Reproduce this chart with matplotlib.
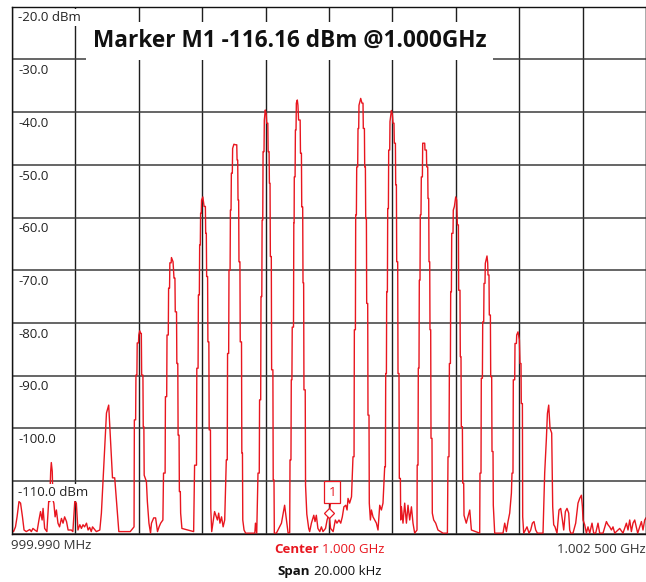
import matplotlib
matplotlib.use("Agg")
import matplotlib.pyplot as plt

plt.rcParams['font.family'] = ['Open Sans', 'DejaVu Sans']

# trace readings: (offset from centre in kHz, level in dBm)
noise_left = [
    (-10.00, -119.3), (-9.95, -119.6), (-9.89, -118.7), (-9.84, -116.8), (-9.78, -113.9),
    (-9.73, -114.2), (-9.67, -116.8), (-9.62, -119.3), (-9.55, -119.6), (-9.44, -119.2),
    (-9.39, -119.6), (-9.34, -119.0), (-9.28, -119.3), (-9.21, -119.6), (-9.15, -117.4),
    (-9.10, -115.8), (-9.05, -117.4), (-9.02, -115.2), (-8.97, -119.0), (-8.90, -119.6),
    (-8.84, -113.6), (-8.81, -113.9), (-8.78, -108.2), (-8.76, -106.5), (-8.73, -108.2),
    (-8.71, -113.6), (-8.68, -114.2), (-8.64, -116.8), (-8.60, -115.5), (-8.55, -118.0),
    (-8.50, -118.7), (-8.44, -117.1), (-8.39, -118.0), (-8.34, -116.8), (-8.28, -117.7),
    (-8.23, -119.3), (-8.13, -119.3), (-8.08, -119.6), (-8.02, -113.9), (-7.97, -114.2),
    (-7.92, -119.3), (-7.86, -118.3), (-7.81, -119.0), (-7.76, -118.3), (-7.71, -118.7),
    (-7.65, -118.0), (-7.60, -119.3), (-7.55, -118.8), (-7.50, -119.6), (-7.46, -118.7),
    (-7.34, -119.6), (-7.23, -119.3), (-7.18, -116.1),
]

lsb_7_6 = [
    (-7.02, -97.1), (-6.95, -95.6), (-6.83, -109.4), (-6.76, -109.4), (-6.63, -119.6),
    (-6.27, -119.6), (-6.15, -118.7),
    (-6.14, -98.4), (-6.10, -98.4), (-6.09, -89.9), (-6.06, -89.9), (-6.05, -83.8),
    (-6.01, -83.8), (-6.00, -82.3), (-5.97, -81.5), (-5.94, -82.0), (-5.92, -82.0),
    (-5.91, -89.9), (-5.87, -89.9), (-5.86, -99.7), (-5.84, -99.7), (-5.83, -108.9),
    (-5.76, -110.1), (-5.73, -113.9), (-5.68, -118.0), (-5.63, -119.9), (-5.60, -118.0),
    (-5.53, -117.0), (-5.47, -117.0), (-5.41, -119.6), (-5.36, -118.7), (-5.31, -118.0),
    (-5.24, -117.4),
]

lsb_5_4 = [
    (-5.22, -108.5), (-5.17, -108.5), (-5.16, -94.0), (-5.12, -94.0), (-5.11, -82.3),
    (-5.07, -82.3), (-5.06, -73.4), (-5.03, -73.4), (-5.02, -68.6), (-4.98, -68.6),
    (-4.97, -67.6), (-4.92, -68.4), (-4.89, -71.5), (-4.86, -71.5), (-4.85, -77.9),
    (-4.81, -77.9), (-4.80, -87.7), (-4.77, -87.7), (-4.76, -101.3), (-4.73, -101.3),
    (-4.72, -112.0), (-4.69, -112.0), (-4.68, -116.1), (-4.64, -119.0), (-4.27, -119.6),
    (-4.24, -107.0), (-4.18, -107.0), (-4.17, -88.6), (-4.13, -88.6), (-4.12, -74.7),
    (-4.09, -74.7), (-4.08, -65.2), (-4.06, -65.2), (-4.05, -59.2), (-4.03, -59.2),
    (-4.02, -56.7), (-3.98, -56.1), (-3.94, -57.9), (-3.90, -57.9), (-3.89, -63.0),
    (-3.87, -63.0), (-3.86, -71.2), (-3.83, -71.2), (-3.82, -83.6), (-3.79, -83.6),
    (-3.78, -100.3), (-3.74, -100.3), (-3.73, -115.2), (-3.70, -119.6), (-3.61, -115.8),
    (-3.52, -117.4), (-3.48, -116.1), (-3.44, -118.0), (-3.39, -116.8), (-3.34, -118.7),
    (-3.29, -117.4),
]

lsb_3_2_1 = [
    (-3.24, -106.0), (-3.21, -106.0), (-3.20, -85.8), (-3.165, -85.8), (-3.155, -70.0),
    (-3.12, -70.0), (-3.11, -58.6), (-3.09, -58.6), (-3.08, -51.6), (-3.05, -51.6),
    (-3.04, -46.9), (-3.00, -46.1), (-2.95, -46.2), (-2.91, -46.2), (-2.90, -49.1),
    (-2.88, -49.1), (-2.87, -56.7), (-2.85, -56.7), (-2.84, -68.4), (-2.81, -68.4),
    (-2.80, -83.6), (-2.76, -83.6), (-2.75, -104.7), (-2.73, -104.7), (-2.72, -117.4),
    (-2.68, -119.3), (-2.63, -119.9), (-2.34, -119.9), (-2.32, -118.0), (-2.28, -119.9),
    (-2.24, -108.5), (-2.20, -108.5), (-2.19, -94.6), (-2.155, -94.6), (-2.145, -75.0),
    (-2.12, -75.0), (-2.11, -60.5), (-2.09, -60.5), (-2.08, -47.5), (-2.05, -47.5),
    (-2.04, -41.5), (-2.01, -39.6), (-1.98, -40.4), (-1.965, -42.1), (-1.93, -42.1),
    (-1.92, -47.5), (-1.89, -47.5), (-1.88, -53.5), (-1.86, -53.5), (-1.85, -67.4),
    (-1.82, -67.4), (-1.81, -88.9), (-1.77, -88.9), (-1.76, -109.8), (-1.735, -109.8),
    (-1.725, -119.9), (-1.66, -119.9), (-1.50, -118.0), (-1.40, -114.6), (-1.29, -119.9),
    (-1.24, -119.8),
    (-1.23, -106.0), (-1.20, -106.0), (-1.19, -90.8), (-1.17, -90.8), (-1.16, -80.8),
    (-1.12, -80.8), (-1.11, -61.0), (-1.10, -61.0), (-1.095, -52.3), (-1.07, -52.3),
    (-1.06, -43.4), (-1.04, -43.4), (-1.03, -38.3), (-1.00, -37.7), (-0.98, -38.7),
    (-0.96, -41.5), (-0.91, -41.5), (-0.90, -47.8), (-0.87, -47.8), (-0.86, -58.0),
    (-0.83, -58.0), (-0.82, -72.4), (-0.80, -72.4), (-0.79, -92.7), (-0.75, -92.7),
    (-0.74, -110.8), (-0.70, -116.3),
]

noise_centre = [
    (-0.64, -119.0), (-0.61, -119.6), (-0.555, -118.0), (-0.48, -116.5), (-0.44, -117.7),
    (-0.40, -116.5), (-0.35, -119.0), (-0.29, -119.6), (-0.24, -118.7), (-0.19, -119.6),
    (-0.11, -119.0), (-0.06, -117.4), (0.00, -116.16), (0.05, -119.0), (0.13, -119.6),
    (0.20, -117.4), (0.25, -118.0), (0.315, -117.4), (0.37, -118.0), (0.42, -116.8),
    (0.47, -114.9), (0.53, -114.6), (0.57, -115.5), (0.60, -113.3), (0.65, -114.2),
    (0.71, -113.0),
]

usb_1_2_3 = [
    (0.757, -105.4), (0.79, -105.4), (0.80, -81.3), (0.833, -81.3), (0.842, -59.5),
    (0.864, -59.5), (0.874, -50.4), (0.905, -50.4), (0.915, -43.1), (0.937, -43.1),
    (0.946, -38.7), (1.00, -37.4), (1.04, -38.3), (1.073, -38.3), (1.082, -43.1),
    (1.117, -43.1), (1.126, -50.4), (1.148, -50.4), (1.158, -60.2), (1.18, -60.2),
    (1.189, -76.3), (1.221, -76.3), (1.23, -97.5), (1.262, -97.5), (1.271, -114.2),
    (1.306, -117.4), (1.338, -115.5), (1.388, -116.8), (1.442, -117.4), (1.495, -118.0),
    (1.546, -119.3), (1.60, -114.6), (1.653, -115.5), (1.703, -114.2),
    (1.757, -107.3), (1.779, -107.3), (1.789, -89.6), (1.811, -89.6), (1.82, -74.1),
    (1.842, -74.1), (1.852, -58.3), (1.874, -58.3), (1.883, -47.2), (1.915, -47.2),
    (1.924, -41.8), (1.968, -39.7), (2.00, -40.5), (2.019, -42.1), (2.05, -42.1),
    (2.06, -45.9), (2.095, -45.9), (2.104, -53.8), (2.126, -53.8), (2.136, -68.4),
    (2.167, -68.4), (2.177, -89.6), (2.208, -89.6), (2.218, -109.5), (2.252, -109.5),
    (2.262, -117.4), (2.284, -114.9), (2.334, -118.0), (2.388, -114.2), (2.442, -118.0),
    (2.492, -114.6), (2.546, -117.4), (2.60, -114.9), (2.65, -118.0), (2.703, -119.9),
    (2.776, -119.3),
    (2.782, -107.0), (2.808, -107.0), (2.817, -88.6), (2.839, -88.6), (2.849, -71.9),
    (2.871, -71.9), (2.88, -59.5), (2.902, -59.5), (2.912, -52.3), (2.946, -52.3),
    (2.956, -45.9), (3.019, -45.9), (3.028, -47.2), (3.073, -47.2), (3.082, -50.4),
    (3.114, -50.4), (3.123, -56.4), (3.145, -56.4), (3.155, -68.4), (3.177, -68.4),
    (3.186, -81.3), (3.208, -81.3), (3.218, -101.9), (3.249, -101.9), (3.259, -116.1),
    (3.303, -117.4), (3.366, -118.0), (3.438, -119.3), (3.596, -119.9), (3.735, -119.9),
]

usb_4_5 = [
    (3.754, -105.4), (3.785, -105.4), (3.798, -87.7), (3.83, -87.7), (3.839, -74.1),
    (3.861, -74.1), (3.871, -63.0), (3.912, -63.0), (3.921, -58.6), (3.956, -57.9),
    (3.997, -56.1), (4.028, -56.7), (4.05, -61.4), (4.082, -61.4), (4.091, -73.8),
    (4.132, -73.8), (4.142, -86.4), (4.164, -86.4), (4.174, -99.7), (4.208, -99.7),
    (4.218, -110.4), (4.249, -110.4), (4.259, -116.5), (4.33, -118.0), (4.44, -115.5),
    (4.492, -119.3), (4.754, -119.9),
    (4.763, -108.5), (4.795, -108.5), (4.804, -90.5), (4.839, -90.5), (4.849, -79.8),
    (4.88, -79.8), (4.89, -72.5), (4.921, -72.5), (4.931, -68.7), (4.984, -67.3),
    (5.006, -68.6), (5.016, -70.9), (5.047, -70.9), (5.057, -78.5), (5.091, -78.5),
    (5.101, -90.2), (5.132, -90.2), (5.142, -104.4), (5.174, -104.4), (5.183, -114.6),
    (5.227, -119.9), (5.489, -119.9), (5.543, -118.0), (5.596, -119.6), (5.647, -117.7),
    (5.70, -116.1), (5.754, -112.3),
]

usb_6_7 = [
    (5.773, -108.5), (5.804, -108.5), (5.814, -90.8), (5.858, -90.8), (5.868, -83.9),
    (5.912, -83.9), (5.921, -82.3), (5.962, -81.7), (6.006, -83.2), (6.025, -87.7),
    (6.057, -87.7), (6.066, -95.3), (6.101, -95.3), (6.11, -116.8), (6.142, -119.9),
    (6.196, -119.3), (6.246, -118.7), (6.309, -119.9), (6.363, -119.3), (6.416, -118.0),
    (6.467, -117.7), (6.521, -119.3), (6.574, -119.9), (6.751, -119.9),
    (6.804, -108.5), (6.858, -101.9), (6.89, -97.2), (6.931, -95.6), (6.972, -100.0),
    (7.025, -100.9), (7.057, -114.9), (7.088, -118.3), (7.129, -118.7), (7.192, -119.9),
]

noise_right = [
    (7.256, -115.5), (7.309, -115.2), (7.363, -117.4), (7.404, -119.3), (7.457, -115.8),
    (7.508, -115.2), (7.562, -116.1), (7.593, -119.3), (7.625, -119.9), (7.697, -119.9),
    (7.782, -118.0), (7.855, -114.2), (7.909, -113.3), (7.962, -112.7), (7.994, -114.9),
    (8.013, -117.4), (8.066, -118.3), (8.12, -119.9), (8.17, -118.7), (8.224, -119.9),
    (8.297, -118.0), (8.35, -119.9), (8.413, -119.9), (8.486, -118.0), (8.539, -119.9),
    (8.644, -119.9), (8.751, -117.7), (8.801, -118.3), (8.855, -118.7), (8.909, -119.3),
    (8.959, -118.7), (9.013, -119.9), (9.17, -119.0), (9.274, -119.9), (9.382, -118.0),
    (9.432, -119.3), (9.486, -117.4), (9.539, -119.6), (9.59, -118.0), (9.644, -117.4),
    (9.738, -119.9), (9.855, -117.7), (9.905, -119.3), (9.959, -117.4), (10.0, -117.0),
]

marker_khz = 0.0
marker_dbm = -116.16
level_ticks = [-20, -30, -40, -50, -60, -70, -80, -90, -100, -110]
freq_ticks = [-10, -8, -6, -4, -2, 0, 2, 4, 6, 8, 10]

title = "Marker M1 -116.16 dBm @1.000GHz"
start_label = "999.990 MHz"
stop_label = "1.002 500 GHz"
center_value = "1.000 GHz"
span_value = "20.000 kHz"

RED = "#e8161f"
W, H = 646, 582

trace = (noise_left + lsb_7_6 + lsb_5_4 + lsb_3_2_1 + noise_centre
         + usb_1_2_3 + usb_4_5 + usb_6_7 + noise_right)
freqs = [p[0] for p in trace]
levels = [p[1] for p in trace]

fig = plt.figure(figsize=(W / 100, H / 100), dpi=100)
ax = fig.add_axes([12 / W, (H - 533.7) / H, (W - 12) / W, 527 / H])
ax.set_xlim(-10, 10)
ax.set_ylim(-120, -20)
ax.set_xticks(freq_ticks)
ax.set_yticks(level_ticks + [-120])
ax.tick_params(length=0, labelbottom=False, labelleft=False)
ax.grid(True, axis="x", color="#1e1e1e", lw=1.0, zorder=0)
ax.grid(True, axis="y", color="#3c3c3c", lw=1.1, zorder=0)
ax.set_axisbelow(True)
for s in ax.spines.values():
    s.set_color("#111111")
    s.set_linewidth(1.0)

ax.plot(freqs, levels, color=RED, lw=1.0, zorder=2)

# level labels sit inside the grid, just under each line
for v in level_ticks:
    txt = f"{v:.1f}"
    if v in (-20, -110):
        txt += " dBm"
    ax.annotate(txt, xy=(0, v), xycoords=("axes fraction", "data"),
                xytext=(4.3, -10.6), textcoords="offset points",
                ha="left", va="baseline", fontsize=9.5, color="#222222",
                bbox=dict(boxstyle="square,pad=0.15", fc="white", ec="none"),
                zorder=4)

# marker
ax.annotate("1", xy=(marker_khz, marker_dbm), xytext=(2.4, 15.4),
            textcoords="offset points", ha="center", va="center",
            fontsize=9.5, color=RED,
            bbox=dict(boxstyle="square,pad=0.32", fc="white", ec=RED, lw=0.9),
            arrowprops=dict(arrowstyle="-", color=RED, lw=0.9,
                            shrinkA=0, shrinkB=0),
            zorder=5)
ax.plot([marker_khz], [marker_dbm], marker="D", ms=5, mfc="white",
        mec=RED, mew=0.9, zorder=6)

fig.text(289.5 / W, 1 - 41 / H, title, ha="center", va="center",
         fontsize=16.3, fontweight="bold", color="#111111",
         bbox=dict(boxstyle="square,pad=0.3", fc="white", ec="none"))

fig.text(11 / W, 1 - 549 / H, start_label, ha="left", va="baseline",
         fontsize=9.5, color="#333333")
fig.text(645.5 / W, 1 - 553.3 / H, stop_label, ha="right", va="baseline",
         fontsize=9.5, color="#333333")

renderer = fig.canvas.get_renderer()


def bold_pair(xc, y_base, bold, regular, color):
    t1 = fig.text(0, 1 - y_base / H, bold, ha="left", va="baseline",
                  fontsize=9.5, fontweight="bold", color=color)
    t2 = fig.text(0, 1 - y_base / H, regular, ha="left", va="baseline",
                  fontsize=9.5, color=color)
    w1 = t1.get_window_extent(renderer).width
    w2 = t2.get_window_extent(renderer).width
    gap = 0.26 * 9.5 * 100 / 72
    x0 = xc - (w1 + gap + w2) / 2
    t1.set_x(x0 / W)
    t2.set_x((x0 + w1 + gap) / W)


bold_pair(329.3, 553.3, "Center", center_value, RED)
bold_pair(329.5, 575.3, "Span", span_value, "#111111")

fig.savefig("out.png", dpi=100)
